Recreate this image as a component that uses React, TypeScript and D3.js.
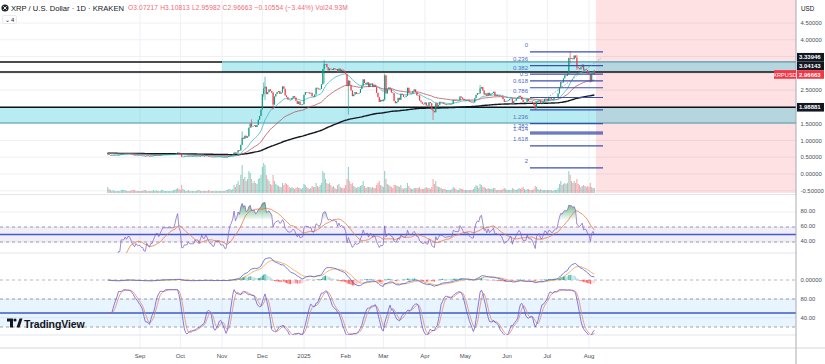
import React from "react";
import * as d3 from "d3";

// ---------------- DATA ----------------
const START_UTC = Date.UTC(2024, 7, 8); // first daily candle: 2024-08-08

const closeAug24 = [0.62,0.57,0.57,0.55,0.57,0.57,0.56,0.56,0.57,0.57,0.60,0.60,0.60,0.61,0.60,0.61,0.61,0.60,0.58,0.57,0.56,0.57,0.56,0.56];
const closeSep24 = [0.56,0.55,0.55,0.53,0.53,0.55,0.54,0.53,0.54,0.54,0.55,0.56,0.57,0.57,0.56,0.57,0.58,0.59,0.59,0.59,0.59,0.59,0.59,0.59,0.59,0.59,0.60,0.62,0.64,0.61];
const closeOct24 = [0.60,0.52,0.52,0.53,0.53,0.53,0.54,0.53,0.53,0.53,0.53,0.54,0.54,0.54,0.53,0.54,0.55,0.54,0.54,0.55,0.54,0.53,0.52,0.52,0.51,0.51,0.52,0.52,0.52,0.52,0.51];
const closeNov24 = [0.51,0.51,0.50,0.50,0.51,0.53,0.55,0.56,0.58,0.64,0.61,0.64,0.71,0.70,0.87,1.08,1.05,1.14,1.08,1.12,1.38,1.50,1.43,1.43,1.45,1.40,1.46,1.62,1.73,1.92];
const closeDec24 = [2.38,2.55,2.60,2.38,2.44,2.52,2.47,2.42,2.07,2.31,2.38,2.44,2.47,2.39,2.43,2.61,2.54,2.34,2.29,2.22,2.21,2.21,2.26,2.32,2.28,2.18,2.09,2.16,2.06,2.07,2.08];
const closeJan25 = [2.36,2.44,2.43,2.43,2.40,2.42,2.32,2.30,2.37,2.57,2.55,2.52,2.54,2.67,3.13,3.28,3.28,3.18,3.09,3.14,3.13,3.10,3.15,3.12,3.13,3.03,3.14,3.06,3.11,3.08,3.05];
const closeFeb25 = [2.98,2.62,2.78,2.64,2.49,2.32,2.37,2.44,2.39,2.40,2.42,2.53,2.63,2.82,2.71,2.68,2.73,2.59,2.70,2.70,2.59,2.65,2.59,2.42,2.29,2.15,2.21,2.17];
const closeMar25 = [2.22,2.94,2.40,2.53,2.58,2.54,2.43,2.41,2.17,2.11,2.15,2.27,2.21,2.39,2.36,2.30,2.30,2.33,2.57,2.42,2.40,2.40,2.47,2.52,2.44,2.34,2.34,2.19,2.14,2.09,2.08];
const closeApr25 = [2.13,2.04,2.03,2.14,2.11,1.92,1.88,1.84,2.11,1.99,2.06,2.15,2.13,2.13,2.09,2.07,2.08,2.08,2.09,2.08,2.09,2.21,2.20,2.19,2.19,2.19,2.31,2.28,2.24,2.20];
const closeMay25 = [2.20,2.20,2.20,2.16,2.14,2.13,2.13,2.26,2.36,2.41,2.40,2.55,2.59,2.49,2.37,2.40,2.33,2.42,2.35,2.39,2.41,2.45,2.33,2.36,2.33,2.34,2.32,2.30,2.23,2.15,2.17];
const closeJun25 = [2.18,2.20,2.24,2.25,2.10,2.17,2.19,2.25,2.29,2.33,2.30,2.21,2.15,2.15,2.15,2.23,2.17,2.16,2.16,2.12,2.05,1.96,2.15,2.18,2.20,2.10,2.10,2.16,2.24,2.24];
const closeJul25 = [2.18,2.26,2.26,2.23,2.23,2.27,2.29,2.29,2.40,2.58,2.74,2.73,2.85,2.94,2.93,2.99,3.46,3.45,3.45,3.42,3.53,3.47,3.18,3.15,3.12,3.18,3.26,3.09,3.12,3.10,3.00];
const closeAug25 = [2.97,2.76,2.99,3.07217,2.96663];

const volAug24 = [6,4,3,2,3,2,2,2,2,2,3,3,3,3,2,2,2,2,3,3,3,2,2,2];
const volSep24 = [2,2,2,3,3,2,2,2,2,2,3,2,3,2,2,2,3,3,2,2,2,2,2,2,2,3,3,4,5,4];
const volOct24 = [3,8,4,3,2,2,3,2,2,2,2,2,2,3,3,2,2,2,2,2,2,3,2,2,2,2,2,2,2,2,2];
const volNov24 = [2,2,2,3,3,4,4,3,4,8,6,9,12,8,18,28,14,16,12,14,22,20,14,10,12,10,9,14,15,18];
const volDec24 = [26,30,28,18,14,12,9,8,18,12,9,8,7,6,6,10,8,10,9,8,6,5,6,5,4,5,6,5,5,4,5];
const volJan25 = [9,8,6,5,4,5,7,6,6,10,7,6,8,10,22,20,14,10,9,10,8,6,7,5,4,8,9,6,5,5,5];
const volFeb25 = [8,14,26,12,9,10,7,6,5,6,6,7,8,12,7,5,6,6,6,5,6,5,5,8,10,12,8,7];
const volMar25 = [6,22,14,9,8,7,6,5,8,8,7,7,6,8,5,4,5,5,10,7,5,4,4,5,5,5,5,6,4,4,4];
const volApr25 = [5,6,5,5,4,6,14,9,12,7,6,6,5,4,4,4,3,3,3,3,4,6,5,4,3,3,5,4,4,3];
const volMay25 = [3,3,3,3,3,3,4,6,8,7,5,9,8,6,6,5,4,5,4,4,4,5,5,3,3,3,3,3,4,5,4];
const volJun25 = [3,3,3,3,5,4,3,3,4,5,4,5,6,4,3,4,4,3,3,3,4,7,6,4,3,4,3,3,3,3];
const volJul25 = [3,3,3,3,2,3,3,3,5,9,12,8,9,10,9,10,22,18,12,10,12,10,14,9,8,6,7,8,7,6,7];
const volAug25 = [6,10,6,5,5];

// notable wicks
const wickDays = ["2024-08-08","2024-10-02","2024-11-16","2024-11-23","2024-12-02","2024-12-03","2024-12-09","2025-01-16","2025-02-03","2025-03-02","2025-04-07","2025-05-12","2025-06-22","2025-07-18","2025-07-23","2025-08-02","2025-08-05"];
const wickHigh = [0.64,0.61,1.27,1.63,2.73,2.90,2.45,3.40,2.80,2.99,1.95,2.65,2.15,3.66,3.55,2.98,3.10813];
const wickLow = [0.56,0.50,0.86,1.38,2.30,2.20,1.92,2.70,1.77,2.18,1.61,2.50,1.91,3.30,3.10,2.72,2.95982];

const firstOpen = 0.60;

// price axis ticks
const priceTicks = [4.5, 4.0, 2.5, 1.5, 1.0, 0.5, 0.0, -0.5];
const priceGrid = [4.5, 4.0, 3.5, 3.0, 2.5, 2.0, 1.5, 1.0, 0.5, 0.0, -0.5];
const monthLabels = ["Sep","Oct","Nov","Dec","2025","Feb","Mar","Apr","May","Jun","Jul","Aug"];

// horizontal levels drawn on chart
const upperZoneTop = 3.33946;
const upperZoneBottom = 3.04143;
const lowerZoneTop = 1.98881;
const lowerZoneBottom = 1.52;
const lastPrice = 2.96663;

// fibonacci retracement
const fibHigh = 3.64;
const fibLow = 1.91;
const fibLevels = [0, 0.236, 0.382, 0.5, 0.618, 0.786, 1, 1.236, 1.382, 1.414, 1.618, 2];
const fibLabels = ["0", "0.236", "0.382", "0.5", "0.618", "0.786", "", "1.236", "1.382", "1.414", "1.618", "2"];

const rsiTicks = [80, 60, 40];
const stochTicks = [80, 40];

// ---------------- HELPERS ----------------
const closes: number[] = [...closeAug24, ...closeSep24, ...closeOct24, ...closeNov24, ...closeDec24, ...closeJan25, ...closeFeb25, ...closeMar25, ...closeApr25, ...closeMay25, ...closeJun25, ...closeJul25, ...closeAug25];
const volumes: number[] = [...volAug24, ...volSep24, ...volOct24, ...volNov24, ...volDec24, ...volJan25, ...volFeb25, ...volMar25, ...volApr25, ...volMay25, ...volJun25, ...volJul25, ...volAug25];

const DAY = 86400000;
const iso = (t: number) => new Date(t).toISOString().slice(0, 10);

type Candle = { t: Date; o: number; h: number; l: number; c: number; v: number };
const candles: Candle[] = closes.map((c, i) => {
  const t = START_UTC + i * DAY;
  const o = i === 0 ? firstOpen : closes[i - 1];
  let h = Math.max(o, c);
  let l = Math.min(o, c);
  const k = wickDays.indexOf(iso(t));
  if (k >= 0) { h = Math.max(h, wickHigh[k]); l = Math.min(l, wickLow[k]); }
  return { t: new Date(t), o, h, l, c, v: volumes[i] ?? 3 };
});

function ema(src: number[], n: number) {
  const k = 2 / (n + 1);
  const out: number[] = [];
  let e = src[0];
  src.forEach((v, i) => { e = i === 0 ? v : v * k + e * (1 - k); out.push(e); });
  return out;
}
function sma(src: number[], n: number) {
  return src.map((_, i) => {
    const s = src.slice(Math.max(0, i - n + 1), i + 1).filter((v) => !isNaN(v));
    return s.length ? d3.mean(s)! : NaN;
  });
}
function rsiCalc(src: number[], n: number) {
  const out: number[] = [NaN];
  let ag = 0, al = 0;
  for (let i = 1; i < src.length; i++) {
    const ch = src[i] - src[i - 1];
    const g = Math.max(ch, 0), l = Math.max(-ch, 0);
    if (i <= n) { ag = (ag * (i - 1) + g) / i; al = (al * (i - 1) + l) / i; }
    else { ag = (ag * (n - 1) + g) / n; al = (al * (n - 1) + l) / n; }
    out.push(al === 0 ? (ag === 0 ? 50 : 100) : 100 - 100 / (1 + ag / al));
  }
  out[0] = out[1];
  return out;
}

const ema20 = ema(closes, 20);
const ema50 = ema(closes, 50);
const ema200 = ema(closes, 200);
const rsi = rsiCalc(closes, 14);
const rsiMa = sma(rsi, 14);
const ema12 = ema(closes, 12);
const ema26 = ema(closes, 26);
const macd = ema12.map((v, i) => v - ema26[i]);
const signal = ema(macd, 9);
const hist = macd.map((v, i) => v - signal[i]);
const STOCH_LEN = 20, K_SMOOTH = 5, D_SMOOTH = 4;
const stochRaw = rsi.map((v, i) => {
  const w = rsi.slice(Math.max(0, i - STOCH_LEN + 1), i + 1);
  const mn = d3.min(w)!, mx = d3.max(w)!;
  return mx - mn < 1e-9 ? 50 : ((v - mn) / (mx - mn)) * 100;
});
const stochK = sma(stochRaw, K_SMOOTH);
const stochD = sma(stochK, D_SMOOTH);

// ---------------- LAYOUT ----------------
const W = 825, H = 364;
const AX = 796; // right axis line
const FONT = "'Liberation Sans', Arial, sans-serif";

const x = d3.scaleUtc().domain([new Date(Date.UTC(2024, 8, 1)), new Date(Date.UTC(2025, 7, 1))]).range([140, 589]);
const yP = d3.scaleLinear().domain([0, 4.5]).range([174, 23]);
const yV = d3.scaleLinear().domain([0, 30]).range([193, 163]);
const yR = d3.scaleLinear().domain([40, 60]).range([242, 227]);
const yM = d3.scaleLinear().domain([0, 0.5]).range([280, 255]);
const yS = d3.scaleLinear().domain([20, 80]).range([327, 299]);

const monthTicks = d3.utcMonths(new Date(Date.UTC(2024, 8, 1)), new Date(Date.UTC(2025, 7, 2)));

function linePath(vals: number[], ys: d3.ScaleLinear<number, number>) {
  return d3.line<number>().defined((v) => !isNaN(v)).x((_, i) => x(candles[i].t)).y((v) => ys(v))(vals) || "";
}

const UP = "#089981", DOWN = "#f23645";

export default function App() {
  const cw = 1.05;
  // right-axis label collision (push upward from current price)
  const curY = yP(lastPrice);
  const lbl2Y = Math.min(yP(upperZoneBottom), curY - 8.6);
  const lbl1Y = Math.min(yP(upperZoneTop), lbl2Y - 8.6);
  const fibY = (lv: number) => yP(fibHigh - (fibHigh - fibLow) * lv);

  // RSI overbought fill area (above 70)
  const obArea = d3.area<number>().defined((v) => !isNaN(v) && v > 70)
    .x((_, i) => x(candles[i].t)).y0(yR(70)).y1((v) => yR(v))(rsi) || "";

  const axisLabel = (txt: string, y: number, key: string) => (
    <text key={key} x={800.5} y={y + 2.1} fontSize={5.9} fill="#4a4e59" fontFamily={FONT}>{txt}</text>
  );
  const box = (txt: string, y: number, fill: string, key: string) => (
    <g key={key}>
      <rect x={797} y={y - 4.3} width={27} height={8.6} fill={fill} />
      <text x={799} y={y + 2.1} fontSize={6} fontWeight={700} fill="#fff" fontFamily={FONT}>{txt}</text>
    </g>
  );

  return (
    <svg width={W} height={H} style={{ position: "fixed", left: 0, top: 0, background: "#fff" }} fontFamily={FONT}>
      <defs>
        <clipPath id="cMain"><rect x={0} y={0} width={AX} height={194} /></clipPath>
        <clipPath id="cRsi"><rect x={0} y={195} width={AX} height={58} /></clipPath>
        <clipPath id="cMacd"><rect x={0} y={253} width={AX} height={37} /></clipPath>
        <clipPath id="cSto"><rect x={0} y={289} width={AX} height={46} /></clipPath>
        <linearGradient id="gOb" x1="0" y1="0" x2="0" y2="1">
          <stop offset="0" stopColor="#2e9e4f" stopOpacity={0.75} />
          <stop offset="1" stopColor="#2e9e4f" stopOpacity={0.05} />
        </linearGradient>
      </defs>
      <rect x={0} y={0} width={W} height={H} fill="#fff" />

      {/* grid */}
      {monthTicks.map((d, i) => (
        <line key={"vg" + i} x1={x(d)} x2={x(d)} y1={0} y2={348} stroke="#eef0f5" strokeWidth={1} />
      ))}
      {priceGrid.map((p, i) => (
        <line key={"hg" + i} x1={0} x2={AX} y1={yP(p)} y2={yP(p)} stroke="#eef0f5" />
      ))}
      {rsiTicks.map((p, i) => <line key={"rg" + i} x1={0} x2={AX} y1={yR(p)} y2={yR(p)} stroke="#eef0f5" />)}
      {stochTicks.map((p, i) => <line key={"sg" + i} x1={0} x2={AX} y1={yS(p)} y2={yS(p)} stroke="#eef0f5" />)}

      {/* future pink zone */}
      <rect x={596} y={0} width={AX - 596} height={193} fill="#f23645" fillOpacity={0.15} />

      {/* zones */}
      <rect x={222} y={yP(upperZoneTop)} width={AX - 222} height={yP(upperZoneBottom) - yP(upperZoneTop)} fill="#00bcd4" fillOpacity={0.28} />
      <line x1={222} x2={AX} y1={yP(upperZoneTop)} y2={yP(upperZoneTop)} stroke="#4f9aa8" strokeWidth={1.2} />
      <line x1={0} x2={222} y1={yP(upperZoneTop)} y2={yP(upperZoneTop)} stroke="#111" strokeWidth={1.4} />
      <line x1={0} x2={AX} y1={yP(upperZoneBottom)} y2={yP(upperZoneBottom)} stroke="#111" strokeWidth={1.5} />
      <rect x={0} y={yP(lowerZoneTop)} width={AX} height={yP(lowerZoneBottom) - yP(lowerZoneTop)} fill="#00bcd4" fillOpacity={0.28} />
      <line x1={0} x2={AX} y1={yP(lowerZoneBottom)} y2={yP(lowerZoneBottom)} stroke="#4f9aa8" strokeWidth={1.2} />
      <line x1={0} x2={AX} y1={yP(lowerZoneTop)} y2={yP(lowerZoneTop)} stroke="#111" strokeWidth={1.6} />

      {/* main pane */}
      <g clipPath="url(#cMain)">
        {candles.map((c, i) => (
          <rect key={"v" + i} x={x(c.t) - cw / 2} y={yV(c.v)} width={cw} height={yV(0) - yV(c.v)}
            fill={c.c >= c.o ? UP : DOWN} fillOpacity={0.45} />
        ))}
        <path d={linePath(ema200, yP)} fill="none" stroke="#131722" strokeWidth={1.4} />
        <path d={linePath(ema50, yP)} fill="none" stroke="#b5535a" strokeWidth={0.8} />
        <path d={linePath(ema20, yP)} fill="none" stroke="#3fb7c9" strokeWidth={0.8} />
        {candles.map((c, i) => {
          const col = c.c >= c.o ? UP : DOWN;
          const top = yP(Math.max(c.o, c.c)), bot = yP(Math.min(c.o, c.c));
          return (
            <g key={"c" + i}>
              <line x1={x(c.t)} x2={x(c.t)} y1={yP(c.h)} y2={yP(c.l)} stroke={col} strokeWidth={0.6} />
              <rect x={x(c.t) - cw / 2} y={top} width={cw} height={Math.max(0.7, bot - top)} fill={col} />
            </g>
          );
        })}
        {/* fib */}
        {fibLevels.map((lv, i) => (
          <g key={"f" + i}>
            <line x1={530} x2={603} y1={fibY(lv)} y2={fibY(lv)} stroke="#3b4fb0" strokeWidth={1.2} />
            {fibLabels[i] && (
              <text x={528} y={fibY(lv) - (lv === 1.414 ? 3.2 : 4.5)} fontSize={6} fill="#4f6fc0" textAnchor="end">{fibLabels[i]}</text>
            )}
          </g>
        ))}
        <line x1={545} y1={yP(2.22)} x2={601} y2={yP(3.45)} stroke="#8a8e99" strokeWidth={0.8} strokeDasharray="1.5,1.5" />
      </g>

      {/* panel separators */}
      {[194.5, 253, 335].map((y, i) => <line key={"sep" + i} x1={0} x2={AX} y1={y} y2={y} stroke="#e3e5ea" />)}

      {/* RSI pane */}
      <rect x={0} y={yR(60)} width={AX} height={yR(40) - yR(60)} fill="#7e57c2" fillOpacity={0.1} />
      <line x1={0} x2={AX} y1={yR(60)} y2={yR(60)} stroke="#8a8e99" strokeDasharray="3,3" strokeWidth={0.8} />
      <line x1={0} x2={AX} y1={yR(40)} y2={yR(40)} stroke="#8a8e99" strokeDasharray="3,3" strokeWidth={0.8} />
      <line x1={0} x2={AX} y1={yR(50)} y2={yR(50)} stroke="#3d5bcc" strokeWidth={1.4} />
      <g clipPath="url(#cRsi)">
        <path d={obArea} fill="url(#gOb)" />
        <path d={linePath(rsiMa, yR)} fill="none" stroke="#e8793f" strokeWidth={0.8} />
        <path d={linePath(rsi, yR)} fill="none" stroke="#7e57c2" strokeWidth={0.7} />
      </g>

      {/* MACD pane */}
      <line x1={0} x2={AX} y1={yM(0)} y2={yM(0)} stroke="#9598a1" strokeDasharray="3,3" strokeWidth={0.7} />
      <g clipPath="url(#cMacd)">
        {hist.map((h, i) => {
          const prev = i > 0 ? hist[i - 1] : h;
          const col = h >= 0 ? (h >= prev ? "#26a69a" : "#b2dfdb") : (h < prev ? "#ff5252" : "#ffcdd2");
          return <rect key={"h" + i} x={x(candles[i].t) - 0.5} y={Math.min(yM(h), yM(0))} width={1} height={Math.abs(yM(h) - yM(0))} fill={col} />;
        })}
        <path d={linePath(signal, yM)} fill="none" stroke="#f0a04a" strokeWidth={0.8} />
        <path d={linePath(macd, yM)} fill="none" stroke="#4a5fd0" strokeWidth={0.8} />
      </g>

      {/* Stoch RSI pane */}
      <rect x={0} y={yS(80)} width={AX} height={yS(20) - yS(80)} fill="#2196f3" fillOpacity={0.1} />
      <line x1={0} x2={AX} y1={yS(80)} y2={yS(80)} stroke="#8a8e99" strokeDasharray="3,3" strokeWidth={0.8} />
      <line x1={0} x2={AX} y1={yS(20)} y2={yS(20)} stroke="#8a8e99" strokeDasharray="3,3" strokeWidth={0.8} />
      <line x1={0} x2={AX} y1={yS(50)} y2={yS(50)} stroke="#3d5bcc" strokeWidth={1.4} />
      <g clipPath="url(#cSto)">
        <path d={linePath(stochD, yS)} fill="none" stroke="#e08a7a" strokeWidth={0.8} />
        <path d={linePath(stochK, yS)} fill="none" stroke="#6a5acd" strokeWidth={0.8} />
      </g>

      {/* TradingView logo */}
      <g fill="#131722">
        <path d="M7 318.5 h6 v9 h-3 v-6 h-3 z" />
        <circle cx={15} cy={320} r={1.6} />
        <path d="M16.5 327.5 l3 -9 h3 l-3 9 z" />
        <text x={24} y={327.5} fontSize={10.5} fontWeight={600} letterSpacing={-0.1}>TradingView</text>
      </g>

      {/* axes */}
      <line x1={AX} x2={AX} y1={0} y2={H} stroke="#9598a1" strokeWidth={0.8} />
      <line x1={0} x2={W} y1={348} y2={348} stroke="#c9ccd3" strokeWidth={0.8} />
      {monthTicks.map((d, i) => (
        <text key={"ml" + i} x={x(d)} y={358} fontSize={6} fill="#4a4e59" textAnchor="middle">{monthLabels[i]}</text>
      ))}

      {priceTicks.map((p, i) => axisLabel(p.toFixed(5), yP(p), "pt" + i))}
      {rsiTicks.map((p, i) => axisLabel(p.toFixed(2), yR(p) - 1, "rt" + i))}
      {axisLabel((0).toFixed(5), yM(0), "mt")}
      {stochTicks.map((p, i) => axisLabel(p.toFixed(2), yS(p), "st" + i))}
      {box(upperZoneTop.toFixed(5), lbl1Y, "#131722", "b1")}
      {box(upperZoneBottom.toFixed(5), lbl2Y, "#131722", "b2")}
      {box(lowerZoneTop.toFixed(5), yP(lowerZoneTop), "#131722", "b3")}
      <rect x={774} y={curY - 4.3} width={22} height={8.6} fill="#f23645" />
      <text x={785} y={curY + 2.1} fontSize={5.6} fill="#fff" textAnchor="middle">XRPUSD</text>
      {box(lastPrice.toFixed(5), curY, "#f23645", "b4")}
      <text x={801} y={11} fontSize={6.3} fill="#131722">USD</text>

      {/* header */}
      <circle cx={5} cy={8} r={3.6} fill="#23262f" />
      <path d="M3.3 6.3 L6.7 9.7 M6.7 6.3 L3.3 9.7" stroke="#fff" strokeWidth={0.9} />
      <text x={11} y={10.5} fontSize={7.6} fill="#131722">XRP / U.S. Dollar · 1D · KRAKEN</text>
      <text x={128} y={10.3} fontSize={6.6} fill="#ef6b76" letterSpacing={0.15}>
        O3.07217 H3.10813 L2.95982 C2.96663 −0.10554 (−3.44%) Vol24.93M
      </text>
      <rect x={2.5} y={15.5} width={14} height={8} rx={1.5} fill="#fff" stroke="#e0e3eb" strokeWidth={0.7} />
      <text x={4.5} y={21.8} fontSize={5.8} fill="#131722">⌄ 4</text>
    </svg>
  );
}
